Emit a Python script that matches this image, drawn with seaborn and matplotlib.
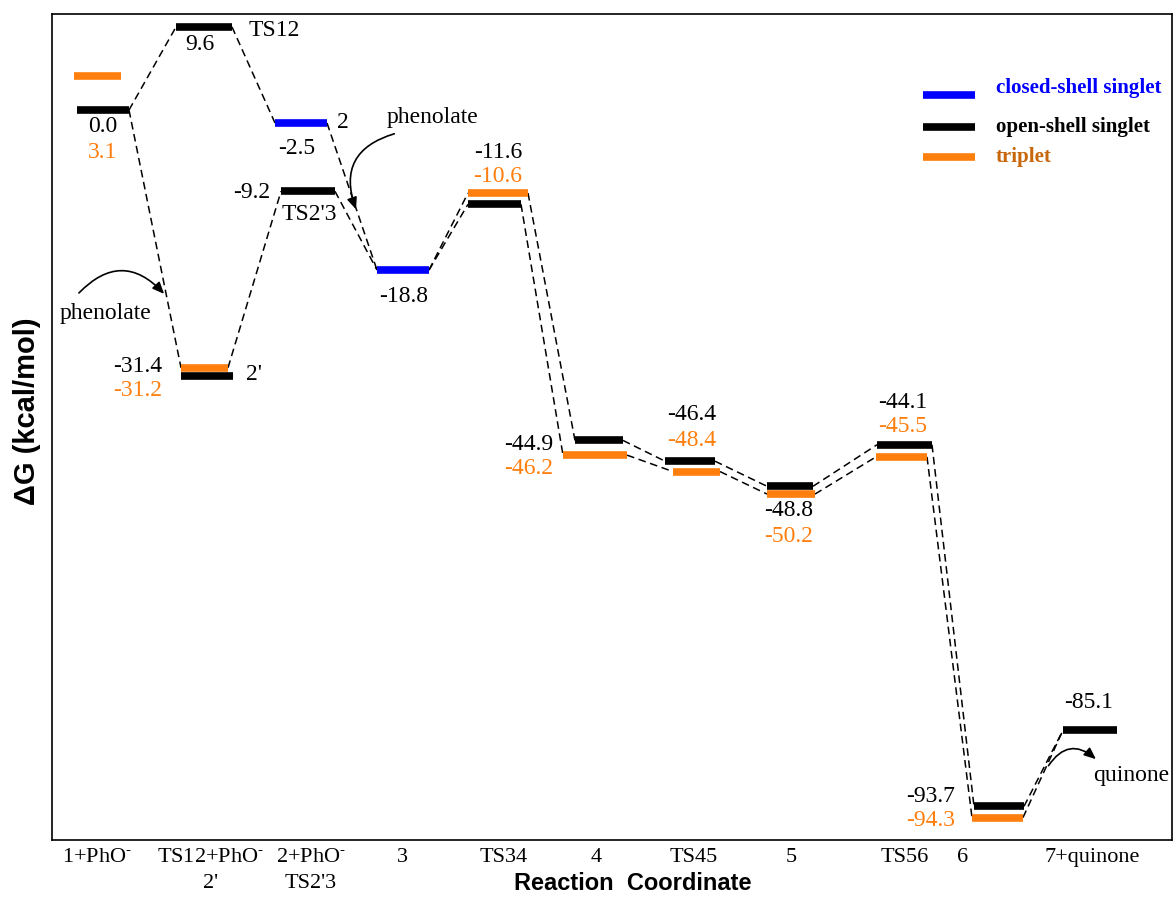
import numpy as np
import pandas as pd
import matplotlib
matplotlib.use("Agg")
import matplotlib.pyplot as plt
import seaborn as sns
from matplotlib.patches import FancyArrowPatch

# ---------------- data ----------------
species = ["1", "TS12", "2", "2'", "TS2'3", "3", "TS34", "4", "TS45", "5", "TS56", "6", "7"]
singlet_dG = [0.0, 9.6, -2.5, -31.4, -9.2, -18.8, -11.6, -44.9, -46.4, -48.8, -44.1, -93.7, -85.1]
singlet_kind = ["open", "open", "closed", "open", "open", "closed", "open",
                "open", "open", "open", "open", "open", "open"]
triplet_dG = [3.1, np.nan, np.nan, -31.2, np.nan, np.nan, -10.6, -46.2, -48.4, -50.2, -45.5, -94.3, np.nan]
# drawn heights of the levels (the diagram is not to scale)
singlet_level = [0.0, 9.6, -1.5, -30.8, -9.4, -18.5, -10.9, -38.2, -40.6, -43.5, -38.7, -80.5, -71.7]
triplet_level = [3.9, np.nan, np.nan, -29.8, np.nan, np.nan, -9.6, -39.9, -41.8, -44.4, -40.1, -81.8, np.nan]

tick_labels = ["1+PhO$^{\\text{-}}$", "TS12+PhO$^{\\text{-}}$\n2'", "2+PhO$^{\\text{-}}$\nTS2'3", "3",
               "TS34", "4", "TS45", "5", "TS56", "6", "7+quinone"]
legend_labels = ["closed-shell singlet", "open-shell singlet", "triplet"]

# connections: (from species, from state, to species, to state)
connections = [("1", "s", "TS12", "s"), ("TS12", "s", "2", "s"), ("1", "s", "2'", "t"),
               ("2'", "t", "TS2'3", "s"), ("TS2'3", "s", "3", "s"), ("2", "s", "3", "s"),
               ("3", "s", "TS34", "s"), ("3", "s", "TS34", "t"), ("TS34", "t", "4", "s"),
               ("TS34", "s", "4", "t"), ("4", "s", "TS45", "s"), ("4", "t", "TS45", "t"),
               ("TS45", "s", "5", "s"), ("TS45", "t", "5", "t"), ("5", "s", "TS56", "s"),
               ("5", "t", "TS56", "t"), ("TS56", "s", "6", "s"), ("TS56", "t", "6", "t"),
               ("6", "s", "7", "s"), ("6", "t", "7", "s")]

# ---------------- layout ----------------
s_left = [0.77, 1.76, 2.75, 1.81, 2.81, 3.77, 4.68, 5.75, 6.65, 7.67, 8.77, 9.74, 10.63]
s_right = [1.29, 2.32, 3.27, 2.33, 3.35, 4.29, 5.21, 6.23, 7.15, 8.13, 9.32, 10.24, 11.17]
t_left = [0.74, np.nan, np.nan, 1.81, np.nan, np.nan, 4.68, 5.63, 6.73, 7.67, 8.76, 9.72, np.nan]
t_right = [1.21, np.nan, np.nan, 2.28, np.nan, np.nan, 5.28, 6.27, 7.20, 8.15, 9.27, 10.23, np.nan]
tick_x = [0.97, 2.11, 3.11, 4.02, 5.04, 5.96, 6.94, 7.91, 9.05, 9.63, 10.92]


def Y(py):
    return (110 - py) / 8.65


ORANGE = "#ff7f0e"
BLUE = "#0000ff"
colors = {"closed": BLUE, "open": "black", "triplet": ORANGE}

sns.set_theme(style="white")
plt.rcParams["font.family"] = ["Liberation Serif", "DejaVu Serif"]
plt.rcParams["mathtext.fontset"] = "stix"
for k in ["text.color", "axes.labelcolor", "xtick.color", "ytick.color", "axes.edgecolor"]:
    plt.rcParams[k] = "black"

fig = plt.figure(figsize=(11.75, 9.01), dpi=100)
ax = fig.add_axes([52 / 1175, 61 / 901, 1120 / 1175, 826 / 901])

# bars
rows = []
for i, sp in enumerate(species):
    rows.append(dict(x=s_left[i], y=singlet_level[i], state=singlet_kind[i], seg=f"s{i}"))
    rows.append(dict(x=s_right[i], y=singlet_level[i], state=singlet_kind[i], seg=f"s{i}"))
    if not np.isnan(triplet_level[i]):
        rows.append(dict(x=t_left[i], y=triplet_level[i], state="triplet", seg=f"t{i}"))
        rows.append(dict(x=t_right[i], y=triplet_level[i], state="triplet", seg=f"t{i}"))
bars = pd.DataFrame(rows)

# connectors
idx = {sp: i for i, sp in enumerate(species)}
crow = []
for k, (a, sa, b, sb) in enumerate(connections):
    ia, ib = idx[a], idx[b]
    xa = s_right[ia] if sa == "s" else t_right[ia]
    ya = singlet_level[ia] if sa == "s" else triplet_level[ia]
    xb = s_left[ib] if sb == "s" else t_left[ib]
    yb = singlet_level[ib] if sb == "s" else triplet_level[ib]
    crow.append(dict(x=xa, y=ya, seg=k))
    crow.append(dict(x=xb, y=yb, seg=k))
conn = pd.DataFrame(crow)

sns.lineplot(data=conn, x="x", y="y", units="seg", estimator=None, sort=False,
             color="black", lw=1.1, linestyle=(0, (5, 3)), ax=ax, legend=False, zorder=2)
sns.lineplot(data=bars, x="x", y="y", hue="state", units="seg", estimator=None, sort=False,
             palette=colors, lw=5.5, ax=ax, legend=False, solid_capstyle="butt", zorder=3)

ax.set_xlim(0.52, 11.72)
ax.set_ylim(Y(840), Y(14))
ax.set_xticks(tick_x)
ax.set_xticklabels(tick_labels, fontsize=16, linespacing=1.45)
ax.set_yticks([])
ax.tick_params(axis="x", length=0, pad=6)
ax.set_xlabel("")
ax.set_ylabel("")
for sp_ in ax.spines.values():
    sp_.set_color("black")
    sp_.set_linewidth(1.2)
    sp_.set_visible(True)

# energy labels
fs = 17
s_lab = {"1": (1.03, 127, "center"), "TS12": (2.00, 45, "center"), "2": (2.97, 148, "center"),
         "2'": (1.62, 366, "right"), "TS2'3": (2.70, 193, "right"), "3": (4.04, 296, "center"),
         "TS34": (4.98, 152, "center"), "4": (5.53, 444, "right"), "TS45": (6.92, 415, "center"),
         "5": (7.89, 511, "center"), "TS56": (9.03, 402, "center"), "6": (9.55, 797, "right"),
         "7": (10.89, 702, "center")}
t_lab = {"1": (1.03, 152, "center"), "2'": (1.62, 390, "right"), "TS34": (4.98, 176, "center"),
         "4": (5.53, 469, "right"), "TS45": (6.92, 440, "center"), "5": (7.89, 536, "center"),
         "TS56": (9.03, 427, "center"), "6": (9.55, 820, "right")}
for i, sp in enumerate(species):
    x, py, ha = s_lab[sp]
    ax.text(x, Y(py), f"{singlet_dG[i]:.1f}", fontsize=fs, ha=ha, va="center", color="black")
    if sp in t_lab:
        x, py, ha = t_lab[sp]
        ax.text(x, Y(py), f"{triplet_dG[i]:.1f}", fontsize=fs, ha=ha, va="center", color=ORANGE)

# species names
names = [("TS12", 2.49, 31, "left"), ("2", 3.43, 122, "center"), ("TS2'3", 3.09, 215, "center"),
         ("2'", 2.54, 375, "center"), ("phenolate", 1.06, 313, "center"),
         ("phenolate", 4.33, 117, "center"), ("quinone", 11.31, 776, "center")]
for t, x, py, ha in names:
    ax.text(x, Y(py), t, fontsize=fs, ha=ha, va="center", color="black")

# curved arrows
arrows = [((0.77, Y(295)), (1.66, Y(296)), -0.55),
          ((3.97, Y(133)), (3.57, Y(212)), 0.55),
          ((10.47, Y(768)), (10.98, Y(761)), -0.6)]
for p0, p1, rad in arrows:
    ax.add_patch(FancyArrowPatch(p0, p1, connectionstyle=f"arc3,rad={rad}",
                                 arrowstyle="-|>,head_length=7,head_width=3",
                                 color="black", lw=1.2, mutation_scale=1, zorder=4))

# legend (hand drawn)
tra = ax.transAxes
leg_y = [(840 - 95) / 826, (840 - 127) / 826, (840 - 157) / 826]
leg_ty = [(840 - 88) / 826, (840 - 127) / 826, (840 - 157) / 826]
leg_col = [BLUE, "black", ORANGE]
leg_tcol = [BLUE, "black", "#c8660a"]
for lab, ly, ty, c, tc in zip(legend_labels, leg_y, leg_ty, leg_col, leg_tcol):
    ax.plot([(923 - 52) / 1120, (975 - 52) / 1120], [ly, ly], transform=tra, color=c,
            lw=5.5, solid_capstyle="butt")
    ax.text((996 - 52) / 1120, ty, lab, transform=tra, fontsize=15, fontweight="bold",
            color=tc, ha="left", va="center")

# axis titles
fig.text(633 / 1175, 1 - 884 / 901, "Reaction  Coordinate", fontsize=17, fontweight="bold",
         family="Liberation Sans", ha="center", va="center", color="black")
fig.text(27 / 1175, 1 - 411 / 901, "ΔG (kcal/mol)", fontsize=21, fontweight="bold",
         family="Liberation Sans", ha="center", va="center", rotation=90, color="black")

fig.savefig("out.png", dpi=100, facecolor="white")
